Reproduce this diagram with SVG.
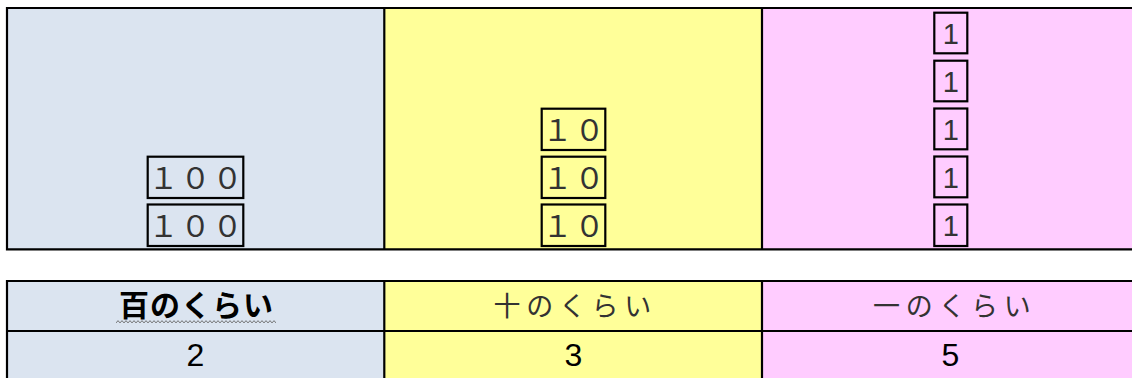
<svg xmlns="http://www.w3.org/2000/svg" width="1132" height="378" viewBox="0 0 1132 378">
<style>
.b{fill:#dbe4f0}.y{fill:#ffff99}.p{fill:#ffccff}
.ln{stroke:#000;stroke-width:2.2;fill:none}
.box{stroke:#000;stroke-width:2.2;fill:none}
.fw{font-family:"Noto Sans CJK JP",sans-serif;font-size:30px;font-weight:normal;fill:#333;letter-spacing:2px;text-anchor:middle}
.one{font-family:"Liberation Sans",Arial,sans-serif;font-size:29px;fill:#333;text-anchor:middle}
.hd{font-family:"Noto Sans CJK JP",sans-serif;font-size:27px;font-weight:normal;fill:#333;letter-spacing:5.7px}
.hb{font-family:"Noto Sans CJK JP",sans-serif;font-size:30px;font-weight:bold;fill:#000;text-anchor:middle;letter-spacing:1px}
.num{font-family:"Liberation Sans",Arial,sans-serif;font-size:32px;fill:#000;text-anchor:middle}
</style>
<defs>
<pattern id="wave" width="4" height="4" patternUnits="userSpaceOnUse" x="116" y="320">
<polyline points="0,3 1,1.5 2,0.8 3,1.5 4,3" fill="none" stroke="#666" stroke-width="0.9"/>
</pattern>
</defs>
<g id="top-table">
<rect class="b" x="7" y="8" width="377" height="241"/>
<rect class="y" x="384" y="8" width="378" height="241"/>
<rect class="p" x="762" y="8" width="380" height="241"/>
<path class="ln" d="M1140,8 H7 V249.3 H1140 M384.3,8 V249.3 M762,8 V249.3"/>
</g>
<g id="hundreds">
<g id="h1"><rect class="box" x="147.7" y="156.7" width="95.6" height="41.3"/><text class="fw" x="196.5" y="188.5">１００</text></g>
<g id="h2"><rect class="box" x="147.7" y="204.5" width="95.6" height="41.5"/><text class="fw" x="196.5" y="236.5">１００</text></g>
</g>
<g id="tens">
<g id="t1"><rect class="box" x="541.7" y="108.7" width="63.6" height="41.3"/><text class="fw" x="574.5" y="140.5">１０</text></g>
<g id="t2"><rect class="box" x="541.7" y="156.7" width="63.6" height="41.3"/><text class="fw" x="574.5" y="188.5">１０</text></g>
<g id="t3"><rect class="box" x="541.7" y="204.5" width="63.6" height="41.5"/><text class="fw" x="574.5" y="236.5">１０</text></g>
</g>
<g id="ones">
<g id="o1"><rect class="box" x="934.3" y="12.7" width="33" height="40.6"/><text class="one" x="950.8" y="43.5">1</text></g>
<g id="o2"><rect class="box" x="934.3" y="60.7" width="33" height="40.6"/><text class="one" x="950.8" y="91.5">1</text></g>
<g id="o3"><rect class="box" x="934.3" y="108.5" width="33" height="40.8"/><text class="one" x="950.8" y="139.5">1</text></g>
<g id="o4"><rect class="box" x="934.3" y="156.5" width="33" height="40.8"/><text class="one" x="950.8" y="187.5">1</text></g>
<g id="o5"><rect class="box" x="934.3" y="204.5" width="33" height="41.5"/><text class="one" x="950.8" y="235.5">1</text></g>
</g>
<g id="bottom-table">
<rect class="b" x="7" y="281" width="377" height="110"/>
<rect class="y" x="384" y="281" width="378" height="110"/>
<rect class="p" x="762" y="281" width="380" height="110"/>
<path class="ln" d="M1140,281 H7 V390 M7,331 H1140 M384.3,281 V390 M762,281 V390"/>
</g>
<g id="header-hundreds">
<text class="hb" x="196.5" y="316">百のくらい</text>
<rect x="116" y="320" width="160" height="4" fill="url(#wave)"/>
</g>
<g id="header-tens"><text class="hd" x="493.5" y="316">十のくらい</text></g>
<g id="header-ones"><text class="hd" x="873" y="316">一のくらい</text></g>
<g id="val-hundreds"><text class="num" x="195.5" y="366">2</text></g>
<g id="val-tens"><text class="num" x="573.3" y="366">3</text></g>
<g id="val-ones"><text class="num" x="950.5" y="366">5</text></g>
</svg>
